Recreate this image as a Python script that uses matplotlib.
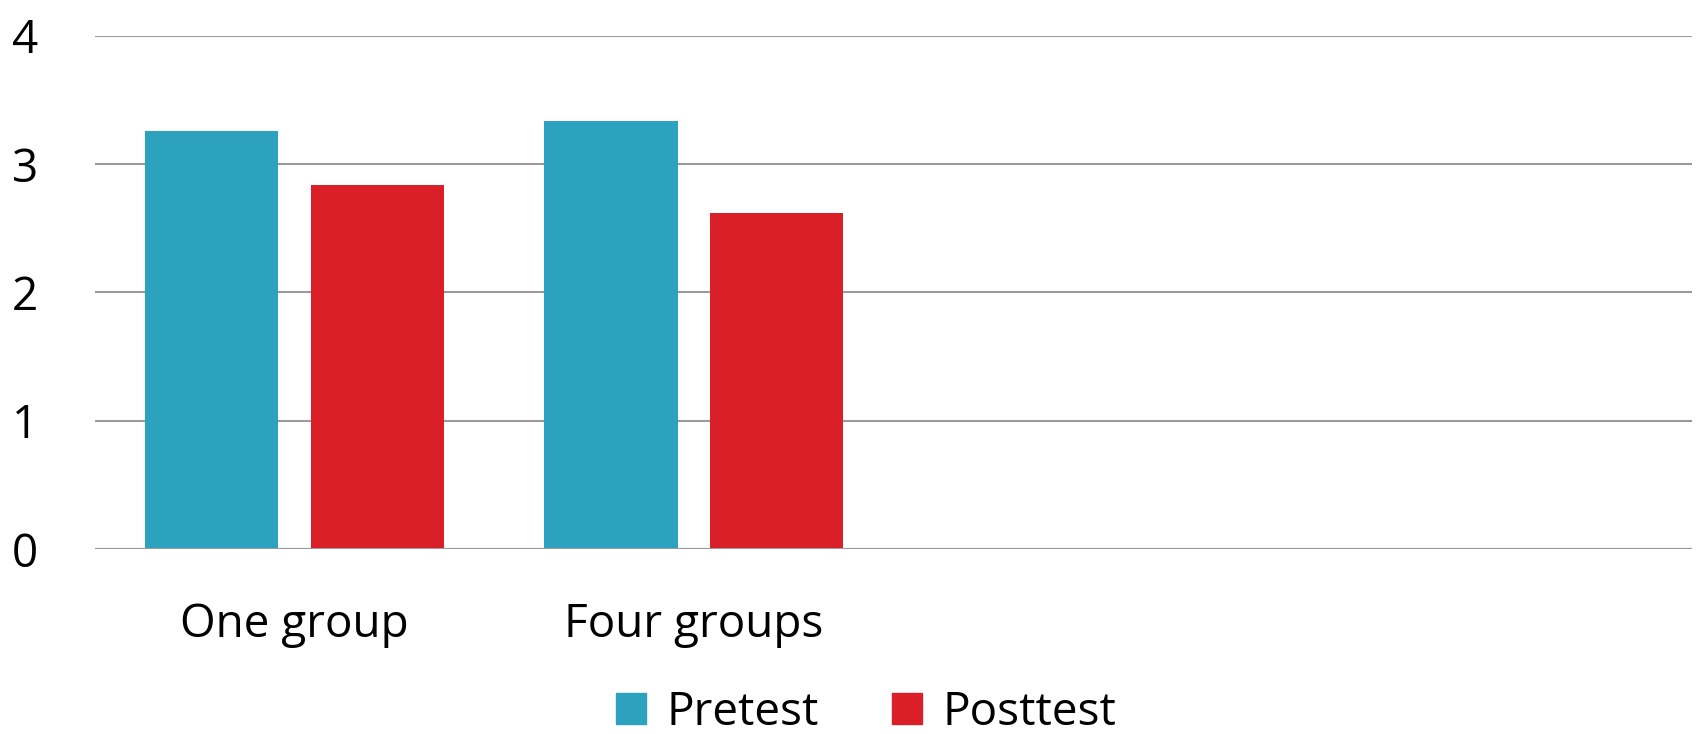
import numpy as np
import matplotlib.pyplot as plt
from matplotlib.patches import Patch

categories = ['One group', 'Four groups', '', '']
pretest = [3.26, 3.34, np.nan, np.nan]
posttest = [2.84, 2.62, np.nan, np.nan]
series_names = ['Pretest', 'Posttest']
colors = ['#2DA2BF', '#DA1F28']

plt.rcParams['font.family'] = ['Open Sans', 'DejaVu Sans']

fig = plt.figure(figsize=(16.98, 7.34), dpi=100)
ax = fig.add_axes([0.056, 0.252, 0.9402, 0.699])

x = np.arange(len(categories))
w = 0.334
off = 0.2076
ax.bar(x - off, pretest, w, color=colors[0], zorder=3)
ax.bar(x + off, posttest, w, color=colors[1], zorder=3)

ax.set_xlim(-0.5, len(categories) - 0.5)
ax.set_ylim(0, 4)
ax.set_yticks([0, 1, 2, 3, 4])
ax.set_xticks(x)
ax.set_xticklabels(categories)
ax.yaxis.grid(True, color='#9a9a9a', lw=1.5, zorder=0)
for s in ax.spines.values():
    s.set_visible(False)
ax.axhline(0, color='#9a9a9a', lw=1.5, zorder=4)
ax.tick_params(axis='both', length=0, labelsize=33)
ax.tick_params(axis='x', pad=38)
ax.tick_params(axis='y', pad=60)
for lbl in ax.get_yticklabels():
    lbl.set_horizontalalignment('left')

handles = [Patch(color=c) for c in colors]
fig.legend(handles, series_names, loc='lower center', bbox_to_anchor=(0.51, -0.04),
           ncol=2, frameon=False, fontsize=33, handlelength=0.65, handleheight=0.65,
           handletextpad=0.45, columnspacing=1.6, borderpad=0.1)

fig.savefig('out.png', dpi=100)
